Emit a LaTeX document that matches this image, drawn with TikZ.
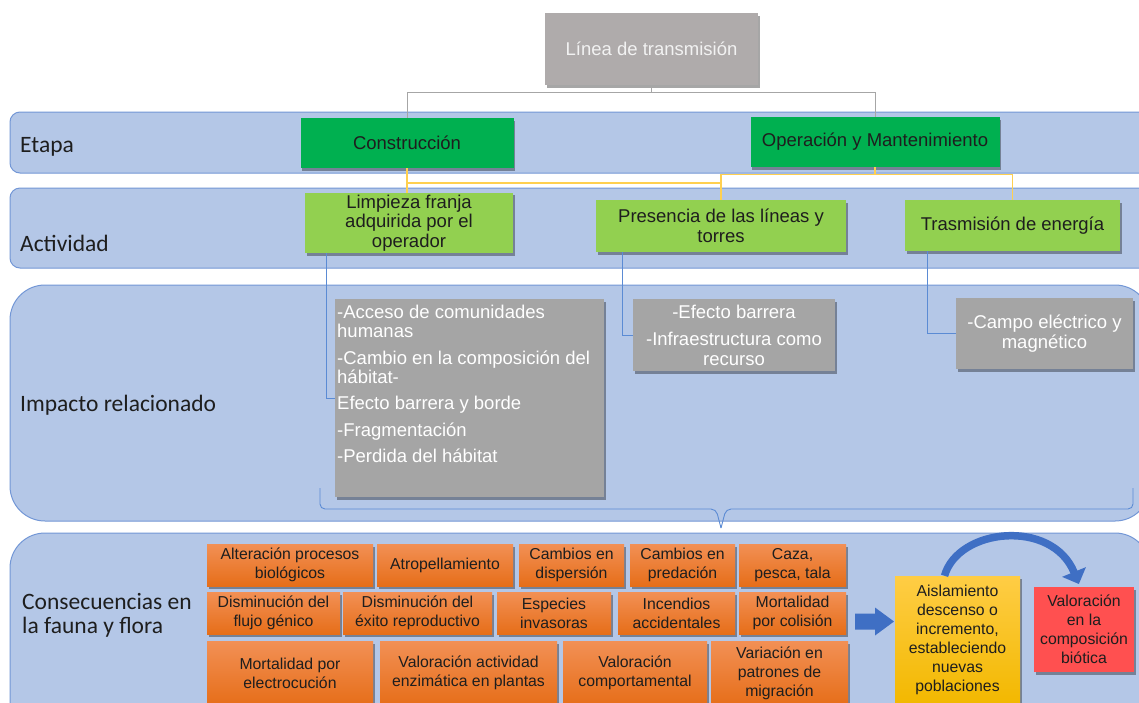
\documentclass[tikz,border=0pt]{standalone}
\usepackage{fontspec}
\setmainfont{Liberation Sans}
\newfontfamily\calib{Carlito}
\usetikzlibrary{shadows,arrows.meta}
\definecolor{bandfill}{HTML}{B4C7E7}
\definecolor{banddraw}{HTML}{7397D6}
\definecolor{topgray}{HTML}{AFABAB}
\definecolor{darkgreen}{HTML}{00B050}
\definecolor{lightgreen}{HTML}{92D050}
\definecolor{impgray}{HTML}{A5A5A5}
\definecolor{orangetop}{HTML}{F29055}
\definecolor{orangebot}{HTML}{E66E19}
\definecolor{yeltop}{HTML}{FFCD45}
\definecolor{yelbot}{HTML}{F2B800}
\definecolor{redbox}{HTML}{FF5050}
\definecolor{arrowblue}{HTML}{3F6FC4}
\definecolor{linegray}{HTML}{A6A6A6}
\definecolor{lineyel}{HTML}{FFD050}
\definecolor{lineblue}{HTML}{5B8BD4}
\definecolor{darktext}{HTML}{1E1E1E}
\begin{document}
\begin{tikzpicture}[x=1pt,y=-1pt,
  band/.style={fill=bandfill,draw=banddraw,line width=1pt},
  lab/.style={font=\calib\fontsize{23.5}{25}\selectfont,text=darktext,inner sep=0pt,anchor=base west},
  shad/.style={drop shadow={shadow xshift=1.5pt,shadow yshift=-2.5pt,opacity=0.35,fill=black}},
  bigfont/.style={font=\fontsize{18.5}{19.5}\selectfont},
  smallfont/.style={font=\fontsize{15.8}{19}\selectfont},
  boxbase/.style={shad,inner sep=2pt,align=center,draw=none},
  topbox/.style={boxbase,bigfont,fill=topgray,text=white!95!black},
  stagebox/.style={boxbase,bigfont,fill=darkgreen,text=darktext},
  actbox/.style={boxbase,bigfont,fill=lightgreen,text=darktext},
  impbox/.style={boxbase,bigfont,fill=impgray,text=white},
  conbox/.style={boxbase,smallfont,top color=orangetop,bottom color=orangebot,text=darktext},
  yelbox/.style={boxbase,smallfont,top color=yeltop,bottom color=yelbot,text=darktext},
  redbx/.style={boxbase,smallfont,fill=redbox,text=darktext},
  gline/.style={draw=linegray,line width=0.8pt},
  yline/.style={draw=lineyel,line width=1.2pt},
  bline/.style={draw=lineblue,line width=0.9pt}
]
\useasboundingbox (0,0) rectangle (1139,702);
\clip (0,0) rectangle (1139,702);
\fill[white] (0,0) rectangle (1139,702);

% bands
\draw[band,rounded corners=10pt] (10,112) rectangle (1150,173);
\draw[band,rounded corners=10pt] (10,188) rectangle (1150,268);
\draw[band,rounded corners=35pt] (10,285) rectangle (1150,521);
\draw[band,rounded corners=35pt] (10,533) rectangle (1150,740);

% band labels
\node[lab] (lEtapa) at (20,152) {Etapa};
\node[lab] (lAct) at (20,251) {Actividad};
\node[lab] (lImp) at (20,411) {Impacto relacionado};
\node[lab] (lCon1) at (22,609) {Consecuencias en};
\node[lab] (lCon2) at (22,633.5) {la fauna y flora};

% connectors drawn first (under boxes)
\coordinate (tjL) at (407,92);

% top
\node[topbox,minimum width=213,minimum height=72] (top) at (651.5,49) {Línea de transmisión};

% stage
\node[stagebox,minimum width=213,minimum height=50] (constr) at (407,143) {Construcción};
\node[stagebox,minimum width=249,minimum height=50] (oper) at (875,142) {Operación y Mantenimiento};

% activities
\node[actbox,minimum width=208,minimum height=58] (limp) at (409,223) {Limpieza franja\\adquirida por el\\operador};
\node[actbox,minimum width=250,minimum height=52] (pres) at (721,226) {Presencia de las líneas y\\torres};
\node[actbox,minimum width=215,minimum height=51] (trasm) at (1012.5,225.5) {Trasmisión de energía};

% impacts
\node[impbox,anchor=north west,minimum width=269,minimum height=198] (imp1) at (335,299) {%
\begin{minipage}[t][194pt][t]{265pt}\raggedright\fontsize{18.5}{19}\selectfont
\vspace*{4pt}%
-Acceso de comunidades\\ humanas\\[7.5pt]
-Cambio en la composición del\\ hábitat-\\[7.5pt]
Efecto barrera y borde\\[8pt]
-Fragmentación\\[6.5pt]
-Perdida del hábitat
\end{minipage}};
\node[impbox,minimum width=202,minimum height=72] (imp2) at (734,335) {-Efecto barrera\\[8pt]-Infraestructura como\\recurso};
\node[impbox,minimum width=177,minimum height=71] (imp3) at (1044.5,333.5) {-Campo eléctrico y\\magnético};

% connectors top
\draw[gline] (top.south) -- ++(0,7) coordinate (tj) -| (constr.north);
\draw[gline] (tj) -| (oper.north);

% yellow connectors
\draw[yline] (constr.south) -- (constr.south |- limp.north);
\draw[yline] (oper.south) -- ++(0,7) coordinate (oj) -| (pres.north);
\draw[yline] (oj) -| (trasm.north);
\draw[yline] (constr.south |- 0,183) -- (pres.north |- 0,183);

% blue connectors
\draw[bline] ([xshift=-83pt]limp.south) |- (imp1.west);
\draw[bline] ([xshift=-99pt]pres.south) |- (imp2.west);
\draw[bline] ([xshift=-85.5pt]trasm.south) |- (imp3.west);

% brace
\coordinate (brL) at (320,488);
\coordinate (brR) at (1133,488);
\coordinate (brM) at (721,528);
\draw[bline,rounded corners=5pt] (brL) |- (716,509) -- (brM);
\draw[bline,rounded corners=5pt] (brR) |- (726,509) -- (brM);

% consequences
\node[conbox,minimum width=166,minimum height=42] (o1) at (290,565) {Alteración procesos\\biológicos};
\node[conbox,minimum width=136,minimum height=42] (o2) at (445,565) {Atropellamiento};
\node[conbox,minimum width=105,minimum height=42] (o3) at (571.5,565) {Cambios en\\dispersión};
\node[conbox,minimum width=105,minimum height=42] (o4) at (682.5,565) {Cambios en\\predación};
\node[conbox,minimum width=107,minimum height=42] (o5) at (792.5,565) {Caza,\\pesca, tala};

\node[conbox,minimum width=133,minimum height=42] (p1) at (273.5,613) {Disminución del\\flujo génico};
\node[conbox,minimum width=149,minimum height=42] (p2) at (417.5,613) {Disminución del\\éxito reproductivo};
\node[conbox,minimum width=114,minimum height=42] (p3) at (554,613) {Especies\\invasoras};
\node[conbox,minimum width=117,minimum height=42] (p4) at (676.5,613) {Incendios\\accidentales};
\node[conbox,minimum width=107,minimum height=42] (p5) at (792.5,613) {Mortalidad\\por colisión};

\node[conbox,minimum width=166,minimum height=64] (q1) at (290,673) {Mortalidad por\\electrocución};
\node[conbox,minimum width=177,minimum height=64] (q2) at (468.5,673) {Valoración actividad\\enzimática en plantas};
\node[conbox,minimum width=144,minimum height=64] (q3) at (635,673) {Valoración\\comportamental};
\node[conbox,minimum width=137,minimum height=64] (q4) at (779.5,673) {Variación en\\patrones de\\migración};

\node[yelbox,minimum width=125,minimum height=128] (aisl) at (957.5,640) {Aislamiento\\descenso o\\incremento,\\estableciendo\\nuevas\\poblaciones};
\node[redbx,minimum width=100,minimum height=85] (valor) at (1084,629.5) {Valoración\\en la\\composición\\biótica};

% block arrow
\fill[arrowblue] (855,613.5) -- (875,613.5) -- (875,607.5) -- (894,621.5) -- (875,635.5) -- (875,629.5) -- (855,629.5) -- cycle;

% curved arrow
\draw[arrowblue,line width=7.5pt,-{Triangle[length=13pt,width=25pt]},shorten >=3pt]
  ([xshift=-13pt]aisl.north) .. controls (958,528) and (1052,518) .. ([xshift=-4pt]valor.north);
\end{tikzpicture}
\end{document}
